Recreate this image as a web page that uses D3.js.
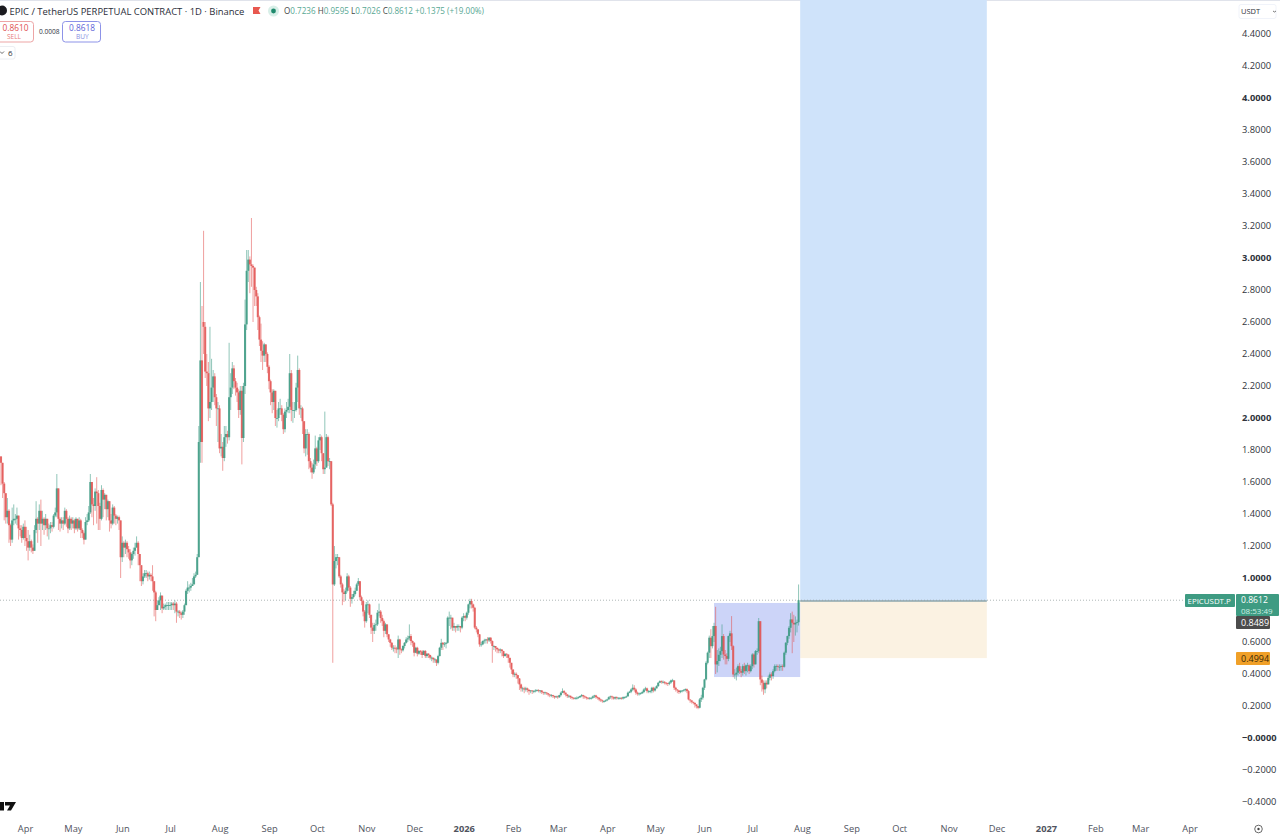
<!DOCTYPE html>
<html><head><meta charset="utf-8">
<script src="https://cdnjs.cloudflare.com/ajax/libs/d3/7.8.5/d3.min.js"></script>
<style>
html,body{margin:0;padding:0;background:#fff;overflow:hidden}
svg{display:block}
text{font-family:"Open Sans","Noto Sans",sans-serif}
.yAxis path,.yAxis line,.xAxis path,.xAxis line{display:none}
</style></head><body><svg id="chart" width="1280" height="840"></svg>
<script>
const firstDate="2025-03-16";
const firstOpen=1.76;
const openGaps={127:2.6};
const closes=[
1.72,1.59,1.53,1.38,1.42,1.33,1.24,1.36,1.37,1.37,
1.39,1.31,1.30,1.25,1.32,1.25,1.23,1.19,1.23,1.19,
1.17,1.30,1.37,1.34,1.42,1.34,1.37,1.33,1.37,1.31,
1.31,1.33,1.32,1.39,1.41,1.56,1.37,1.34,1.36,1.34,
1.42,1.37,1.31,1.37,1.34,1.36,1.31,1.37,1.31,1.36,
1.30,1.28,1.24,1.35,1.36,1.41,1.60,1.46,1.45,1.54,
1.53,1.45,1.37,1.55,1.49,1.52,1.43,1.48,1.36,1.34,
1.44,1.39,1.37,1.38,1.36,1.13,1.22,1.19,1.22,1.18,
1.16,1.11,1.15,1.17,1.19,1.22,1.15,1.08,.98,1.01,
1.03,1.03,1.01,1.02,1.01,.98,.91,.80,.83,.86,
.89,.81,.82,.83,.83,.83,.83,.84,.83,.84,
.79,.79,.78,.77,.79,.83,.92,.94,.94,.95,
.96,1.01,1.02,1.13,1.85,2.36,1.85,2.57,2.29,2.28,
2.06,2.10,2.19,2.26,2.13,2.06,2.06,1.81,1.82,1.75,
1.88,1.90,1.88,2.13,2.19,2.31,2.23,2.19,2.16,2.05,
2.17,1.875,2.20,2.585,2.92,2.99,2.96,2.95,2.94,2.80,
2.76,2.63,2.49,2.42,2.39,2.46,2.40,2.32,2.23,2.16,
2.10,2.17,2.00,2.00,2.06,2.06,2.02,1.93,2.04,2.05,
2.07,2.28,2.05,2.05,2.05,2.19,2.30,2.06,2.06,1.98,
1.81,1.90,1.90,1.73,1.69,1.66,1.71,1.81,1.73,1.86,
1.88,1.78,1.68,1.69,1.88,1.73,1.73,1.46,.96,1.106,
1.13,1.13,1.01,.96,.91,.90,.92,1.01,.94,.87,
.88,.90,.92,.96,.98,.88,.856,.79,.73,.835,
.835,.77,.69,.67,.706,.71,.783,.79,.75,.73,
.67,.71,.648,.616,.595,.564,.564,.56,.554,.616,
.554,.548,.575,.595,.616,.623,.637,.606,.595,.533,
.564,.527,.544,.54,.519,.544,.512,.527,.519,.502,
.502,.491,.491,.47,.512,.564,.595,.585,.589,.595,
.752,.752,.752,.69,.70,.69,.70,.70,.69,.752,
.762,.752,.783,.835,.856,.835,.814,.69,.679,.648,
.585,.585,.606,.61,.616,.61,.627,.606,.575,.575,
.564,.554,.547,.553,.543,.512,.526,.522,.501,.47,
.428,.397,.401,.393,.372,.335,.31,.31,.303,.31,
.301,.293,.297,.293,.293,.297,.299,.297,.297,.287,
.283,.285,.28,.272,.268,.268,.262,.255,.26,.255,
.268,.283,.293,.283,.272,.262,.264,.255,.251,.249,
.251,.251,.255,.262,.268,.26,.255,.251,.249,.251,
.251,.26,.266,.255,.251,.241,.235,.23,.23,.235,
.241,.255,.26,.255,.247,.255,.251,.251,.251,.247,
.255,.255,.26,.283,.289,.303,.314,.303,.283,.276,
.278,.28,.287,.303,.31,.293,.293,.293,.314,.297,
.31,.324,.345,.355,.351,.351,.345,.343,.339,.347,
.36,.36,.314,.303,.297,.287,.293,.297,.301,.305,
.293,.241,.235,.226,.22,.21,.199,.189,.241,.252,
.314,.366,.47,.533,.627,.574,.637,.70,.46,.481,
.52,.543,.637,.522,.512,.495,.637,.654,.574,.397,
.397,.408,.449,.418,.408,.449,.418,.454,.454,.418,
.449,.522,.46,.543,.543,.73,.366,.345,.304,.345,
.335,.376,.397,.387,.418,.449,.449,.445,.445,.449,
.445,.533,.595,.637,.689,.741,.72,.71,.72,.7236,
.8612];
const highs=[
1.74,1.72,1.60,1.53,1.50,1.43,1.34,1.44,1.46,1.40,
1.44,1.39,1.33,1.33,1.34,1.36,1.32,1.30,1.27,1.24,
1.21,1.33,1.48,1.38,1.46,1.49,1.42,1.38,1.40,1.37,
1.34,1.35,1.35,1.40,1.44,1.65,1.56,1.38,1.38,1.38,
1.44,1.43,1.38,1.39,1.38,1.38,1.37,1.38,1.37,1.38,
1.37,1.31,1.29,1.38,1.40,1.45,1.65,1.60,1.50,1.56,
1.63,1.55,1.47,1.58,1.56,1.53,1.52,1.49,1.48,1.40,
1.46,1.45,1.40,1.39,1.39,1.36,1.26,1.23,1.24,1.23,
1.20,1.18,1.16,1.19,1.22,1.26,1.23,1.15,1.08,1.03,
1.05,1.05,1.04,1.04,1.03,1.08,.98,.92,.86,.88,
.91,.89,.84,.84,.85,.85,.85,.85,.85,.86,
.85,.80,.80,.79,.80,.84,.93,.98,.96,.97,
1.00,1.03,1.04,1.15,1.95,2.85,2.70,3.17,2.60,2.40,
2.35,2.57,2.37,2.30,2.28,2.15,2.10,2.08,1.90,1.85,
1.95,1.95,1.92,2.47,2.28,2.35,2.33,2.25,2.22,2.18,
2.20,2.20,2.22,2.74,3.05,3.05,3.01,3.25,2.96,2.90,
2.82,2.78,2.64,2.59,2.48,2.47,2.46,2.41,2.33,2.24,
2.18,2.18,2.17,2.05,2.10,2.12,2.08,2.03,2.06,2.10,
2.12,2.40,2.30,2.10,2.10,2.22,2.39,2.31,2.08,2.07,
1.98,1.93,1.93,1.91,1.75,1.72,1.74,1.89,1.82,1.88,
1.90,1.89,1.78,2.04,1.90,1.89,1.75,1.73,1.47,1.20,
1.15,1.15,1.13,1.02,.97,.93,.94,1.03,1.02,.95,
.90,.92,.94,.97,1.00,.98,.89,.86,.80,.85,
.86,.84,.77,.72,.72,.74,.80,.84,.80,.77,
.74,.72,.71,.65,.62,.60,.58,.58,.57,.64,
.62,.56,.58,.60,.63,.64,.71,.65,.61,.60,
.57,.57,.55,.55,.55,.55,.55,.53,.53,.52,
.51,.50,.50,.48,.52,.57,.62,.60,.60,.60,
.76,.79,.77,.75,.72,.70,.71,.71,.70,.76,
.78,.77,.79,.84,.87,.87,.84,.82,.70,.68,
.65,.60,.61,.62,.62,.63,.63,.63,.61,.58,
.575,.565,.56,.56,.555,.545,.53,.53,.52,.50,
.47,.43,.41,.41,.39,.375,.34,.32,.32,.32,
.315,.305,.30,.30,.30,.305,.305,.305,.30,.30,
.29,.29,.285,.28,.275,.275,.27,.265,.265,.265,
.27,.29,.31,.30,.285,.275,.27,.265,.26,.255,
.255,.26,.26,.265,.275,.27,.265,.26,.255,.255,
.255,.265,.27,.27,.26,.255,.245,.24,.235,.24,
.245,.26,.265,.265,.26,.26,.26,.255,.255,.255,
.26,.26,.265,.29,.295,.31,.335,.33,.31,.29,
.285,.285,.295,.31,.32,.315,.30,.30,.32,.32,
.32,.33,.35,.36,.36,.36,.355,.35,.345,.355,
.365,.37,.36,.32,.305,.30,.30,.30,.305,.31,
.31,.30,.24,.235,.225,.215,.21,.20,.25,.27,
.32,.37,.48,.54,.64,.68,.70,.72,.82,.55,
.56,.57,.71,.65,.55,.53,.64,.67,.762,.58,
.43,.44,.46,.47,.43,.46,.47,.46,.47,.46,
.46,.53,.53,.55,.56,.75,.73,.39,.36,.36,
.36,.39,.41,.41,.43,.46,.46,.46,.46,.46,
.46,.54,.60,.64,.70,.78,.79,.77,.76,.74,
.9595];
const lows=[
1.58,1.50,1.36,1.34,1.34,1.22,1.20,1.22,1.33,1.34,
1.33,1.24,1.26,1.22,1.24,1.20,1.17,1.11,1.17,1.16,
1.15,1.18,1.28,1.22,1.30,1.20,1.30,1.27,1.30,1.26,
1.24,1.28,1.29,1.31,1.38,1.38,1.30,1.29,1.31,1.30,
1.33,1.32,1.28,1.30,1.30,1.31,1.28,1.30,1.29,1.30,
1.25,1.25,1.21,1.24,1.33,1.35,1.40,1.38,1.33,1.42,
1.34,1.30,1.30,1.36,1.38,1.43,1.36,1.38,1.29,1.31,
1.33,1.34,1.33,1.34,1.30,1.00,1.10,1.13,1.15,1.13,
1.12,1.06,1.08,1.12,1.14,1.19,1.08,.98,.95,.96,
1.00,1.00,.98,.99,.98,.92,.76,.73,.80,.83,
.80,.78,.80,.80,.80,.80,.80,.80,.80,.78,
.72,.76,.75,.74,.75,.77,.83,.90,.91,.92,
.95,.98,1.00,1.02,1.13,1.72,1.72,2.40,2.25,2.20,
1.98,2.00,2.05,2.10,2.08,1.95,1.85,1.78,1.76,1.67,
1.73,1.82,1.84,1.86,2.05,2.15,2.18,2.14,2.10,2.00,
2.02,1.71,1.85,2.15,2.55,2.85,2.78,2.82,2.60,2.70,
2.70,2.55,2.45,2.35,2.30,2.35,2.35,2.28,2.18,2.08,
2.03,2.05,1.95,1.94,1.98,2.02,1.98,1.90,1.91,2.00,
2.03,2.03,1.98,1.97,2.00,2.04,2.10,2.02,2.00,1.90,
1.78,1.76,1.77,1.68,1.66,1.62,1.65,1.68,1.70,1.72,
1.80,1.73,1.65,1.65,1.70,1.70,1.68,1.45,.47,.95,
1.06,1.08,1.00,.94,.83,.85,.86,.91,.92,.82,
.84,.87,.89,.92,.95,.86,.83,.76,.69,.72,
.78,.75,.65,.60,.65,.67,.70,.76,.72,.70,
.63,.65,.63,.60,.57,.55,.54,.53,.53,.50,
.52,.53,.54,.56,.59,.60,.61,.58,.57,.51,
.53,.51,.52,.52,.50,.52,.50,.50,.50,.49,
.48,.47,.47,.45,.46,.51,.55,.55,.57,.56,
.59,.70,.68,.67,.67,.66,.67,.67,.66,.68,
.73,.73,.74,.77,.81,.81,.79,.68,.66,.63,
.57,.57,.58,.59,.59,.59,.60,.59,.47,.55,
.54,.53,.53,.53,.51,.50,.51,.50,.47,.44,
.40,.38,.38,.37,.34,.30,.29,.29,.28,.29,
.285,.27,.28,.275,.28,.285,.29,.285,.28,.275,
.27,.27,.27,.26,.255,.255,.25,.245,.25,.245,
.25,.26,.28,.27,.26,.25,.25,.245,.24,.24,
.24,.24,.245,.25,.255,.245,.245,.24,.24,.24,
.24,.245,.25,.245,.24,.23,.225,.22,.22,.225,
.23,.24,.245,.24,.24,.24,.24,.24,.24,.24,
.24,.245,.25,.26,.28,.28,.295,.29,.27,.265,
.265,.27,.275,.28,.295,.28,.28,.28,.28,.285,
.29,.31,.32,.345,.34,.34,.335,.33,.325,.33,
.34,.35,.30,.29,.28,.275,.28,.285,.29,.29,
.28,.235,.22,.215,.21,.19,.185,.18,.185,.225,
.24,.30,.36,.46,.50,.50,.56,.60,.40,.41,
.45,.48,.50,.49,.46,.46,.48,.60,.55,.38,
.37,.36,.39,.40,.38,.39,.40,.39,.41,.40,
.41,.43,.44,.49,.52,.53,.33,.29,.27,.28,
.31,.34,.36,.36,.37,.41,.42,.42,.42,.42,
.42,.44,.52,.58,.62,.66,.53,.60,.64,.66,
.7026];
const priceTicks=[4.4,4.2,4.0,3.8,3.6,3.4,3.2,3.0,2.8,2.6,2.4,2.2,2.0,1.8,1.6,1.4,1.2,1.0,0.6,0.4,0.2,0,-0.2,-0.4];
const boldPrices=[4,3,2,1,0];
const monthTicks=["2025-04-01","2025-05-01","2025-06-01","2025-07-01","2025-08-01","2025-09-01","2025-10-01","2025-11-01","2025-12-01","2026-01-01","2026-02-01","2026-03-01","2026-04-01","2026-05-01","2026-06-01","2026-07-01","2026-08-01","2026-09-01","2026-10-01","2026-11-01","2026-12-01","2027-01-01","2027-02-01","2027-03-01","2027-04-01"];
const monthLabels=["Apr","May","Jun","Jul","Aug","Sep","Oct","Nov","Dec","2026","Feb","Mar","Apr","May","Jun","Jul","Aug","Sep","Oct","Nov","Dec","2027","Feb","Mar","Apr"];
const lastPrice=0.8612, markPrice=0.8489, stopPrice=0.4994, entryPrice=0.856, targetPrice=4.62;
const rangeBox={start:"2026-06-06",end:"2026-07-30",top:0.844,bottom:0.381};
const positionBox={start:"2026-07-30",end:"2026-11-24"};

const UP="#37977f",DOWN="#e2504f";
const svg=d3.select("#chart");
const day=864e5,t0=new Date(firstDate+"T00:00Z");
const dateOf=i=>new Date(+t0+i*day);
const U=s=>new Date(s+"T00:00Z");
const x=d3.scaleUtc().domain([t0,U("2027-04-01")]).range([1,1191]);
const y=d3.scaleLinear().domain([-0.4,4.4]).range([802,34]);

// top rule
svg.append("rect").attr("x",0).attr("y",0).attr("width",1280).attr("height",1).attr("fill","#e0e3eb");

// zones
svg.append("rect").attr("x",x(U(positionBox.start))).attr("width",x(U(positionBox.end))-x(U(positionBox.start)))
 .attr("y",y(targetPrice)).attr("height",y(entryPrice)-y(targetPrice)).attr("fill","#cfe3fa");
svg.append("rect").attr("x",x(U(positionBox.start))).attr("width",x(U(positionBox.end))-x(U(positionBox.start)))
 .attr("y",y(entryPrice)).attr("height",y(stopPrice)-y(entryPrice)).attr("fill","#fbf2e2");
svg.append("rect").attr("x",x(U(rangeBox.start))).attr("width",x(U(rangeBox.end))-x(U(rangeBox.start)))
 .attr("y",y(rangeBox.top)).attr("height",y(rangeBox.bottom)-y(rangeBox.top)).attr("fill","#ccd4f8");
svg.append("line").attr("x1",x(U(positionBox.start))).attr("x2",x(U(positionBox.end)))
 .attr("y1",y(entryPrice)).attr("y2",y(entryPrice)).attr("stroke","#8da6ac").attr("stroke-width",1.4);

// last price line
svg.append("line").attr("x1",0).attr("x2",1185).attr("y1",y(lastPrice)).attr("y2",y(lastPrice))
 .attr("stroke","#9aa5a5").attr("stroke-width",.8).attr("stroke-dasharray","1 2");

// candles
const candles=closes.map((c,i)=>{
  const o=openGaps[i]!==undefined?openGaps[i]:(i?closes[i-1]:firstOpen);
  return {d:dateOf(i),o,c,h:Math.max(highs[i],o,c),l:Math.min(lows[i],o,c)};
});
const col=d=>d.c>=d.o?UP:DOWN;
const g=svg.append("g");
g.selectAll("line.w").data(candles).join("line").attr("class","w")
 .attr("x1",d=>x(d.d)).attr("x2",d=>x(d.d)).attr("y1",d=>y(d.h)).attr("y2",d=>y(d.l))
 .attr("stroke",col).attr("stroke-width",1).attr("stroke-opacity",.55);
g.selectAll("rect.b").data(candles).join("rect").attr("class","b")
 .attr("x",d=>x(d.d)-1.05).attr("width",2.1)
 .attr("y",d=>y(Math.max(d.o,d.c))).attr("height",d=>Math.max(.8,Math.abs(y(d.o)-y(d.c))))
 .attr("fill",col).attr("fill-opacity",.82);

// axes
const yAxis=d3.axisRight(y).tickValues(priceTicks).tickSize(0).tickPadding(0)
 .tickFormat(v=>(v<=0?"\u2212":"")+Math.abs(v).toFixed(4));
const ya=svg.append("g").attr("class","yAxis").attr("transform","translate(1242,-0.5)").call(yAxis);
ya.selectAll("text").attr("fill","#30343c").attr("font-size",9.3)
 .attr("font-weight",v=>boldPrices.includes(v)?700:400).attr("font-family",'"Open Sans"');
const xAxis=d3.axisBottom(x).tickValues(monthTicks.map(U)).tickSize(0).tickPadding(0)
 .tickFormat((d,i)=>monthLabels[i]);
const xa=svg.append("g").attr("class","xAxis").attr("transform","translate(-1.5,825.5)").call(xAxis);
xa.selectAll("text").attr("fill","#50535e").attr("font-size",9.3).attr("font-family",'"Open Sans"')
 .attr("font-weight",(d,i)=>/^20/.test(monthLabels[i])?700:400);

function label(t,px,py,size,fill,extra={}){
  const n=svg.append("text").attr("x",px).attr("y",py).attr("font-size",size).attr("fill",fill).text(t);
  for(const k in extra)n.attr(k,extra[k]);return n;
}
function box(px,py,w,h,fill,stroke,r){
  return svg.append("rect").attr("x",px).attr("y",py).attr("width",w).attr("height",h).attr("rx",r||0)
   .attr("fill",fill).attr("stroke",stroke||"none");
}
// price tags
box(1185,594,50,13,"#3e9b82",null,1);
label("EPICUSDT.P",1187.5,603.5,7.9,"#fff");
box(1236,594,43,22,"#3e9b82",null,1);
label(lastPrice.toFixed(4),1241,603,8.6,"#fff");
label("08:53:49",1241,613.5,8,"#cfeee4");
box(1236,616,34,13,"#4c4c4c",null,1);
label(markPrice.toFixed(4),1241,626,9,"#fff");
box(1236,652,34,13,"#f0a028",null,1);
label(stopPrice.toFixed(4),1241,662,9,"#3a2a08");

// currency selector
box(1239,4.5,37,14,"#fff","#f0f3fa",2);
label("USDT",1241,14,7.5,"#30343c");
svg.append("path").attr("d","M1273 11l1.5 1 1.5-1").attr("fill","none").attr("stroke","#555").attr("stroke-width",.8);

// header
svg.append("circle").attr("cx",2).attr("cy",10.5).attr("r",5).attr("fill","#1b1b1f");
label("EPIC / TetherUS PERPETUAL CONTRACT · 1D · Binance",9.5,14.5,9.45,"#2a2e39",{"font-family":"Roboto"});
svg.append("path").attr("d","M253 7h7.5l-2 3.5 2 3.5h-7.5z").attr("fill","#e8584f");
svg.append("circle").attr("cx",273.5).attr("cy",11).attr("r",5.5).attr("fill","#d8efe8");
svg.append("circle").attr("cx",273.5).attr("cy",11).attr("r",2.4).attr("fill","#1f8a6d");
const ohlcText=svg.append("text").attr("x",284).attr("y",14.3).attr("font-size",8.1).attr("font-family","Roboto");
[["O","0.7236"],["H","0.9595"],["L","0.7026"],["C","0.8612"]].forEach(([a,b])=>{
  ohlcText.append("tspan").attr("fill","#444").text(a);
  ohlcText.append("tspan").attr("fill","#57a893").text(b+" ");
});
ohlcText.append("tspan").attr("fill","#57a893").text("+0.1375 (+19.00%)");

// buy/sell
box(-6,21.5,39.5,20.5,"#fff","#eda5a5",3);
label("0.8610",2.5,30.5,8.3,"#e0504f");
label("SELL",7,39,6.5,"#e77b78");
label("0.0008",39,33.5,6.6,"#30343c");
box(62.5,21.5,38,20.5,"#fff","#8d93e8",3);
label("0.8618",69,30.5,8.3,"#5c63d8");
label("BUY",76,39,6.5,"#888fe2");
box(-6,46.5,21,12.5,"#fff","#eceef2",2);
svg.append("path").attr("d","M0 51.5l2 2 2-2").attr("fill","none").attr("stroke","#444").attr("stroke-width",.8);
label("6",8,56,8,"#30343c");

// logo and settings mark
svg.append("path").attr("d","M0 802h4v8.5h-4z M5 802h11l-5 8.5h-4l3-5h-5z").attr("fill","#111");
svg.append("circle").attr("cx",1258.5).attr("cy",829).attr("r",3.8).attr("fill","none").attr("stroke","#444").attr("stroke-width",.8);
svg.append("circle").attr("cx",1258.5).attr("cy",829).attr("r",1.2).attr("fill","#444");
</script></body></html>
